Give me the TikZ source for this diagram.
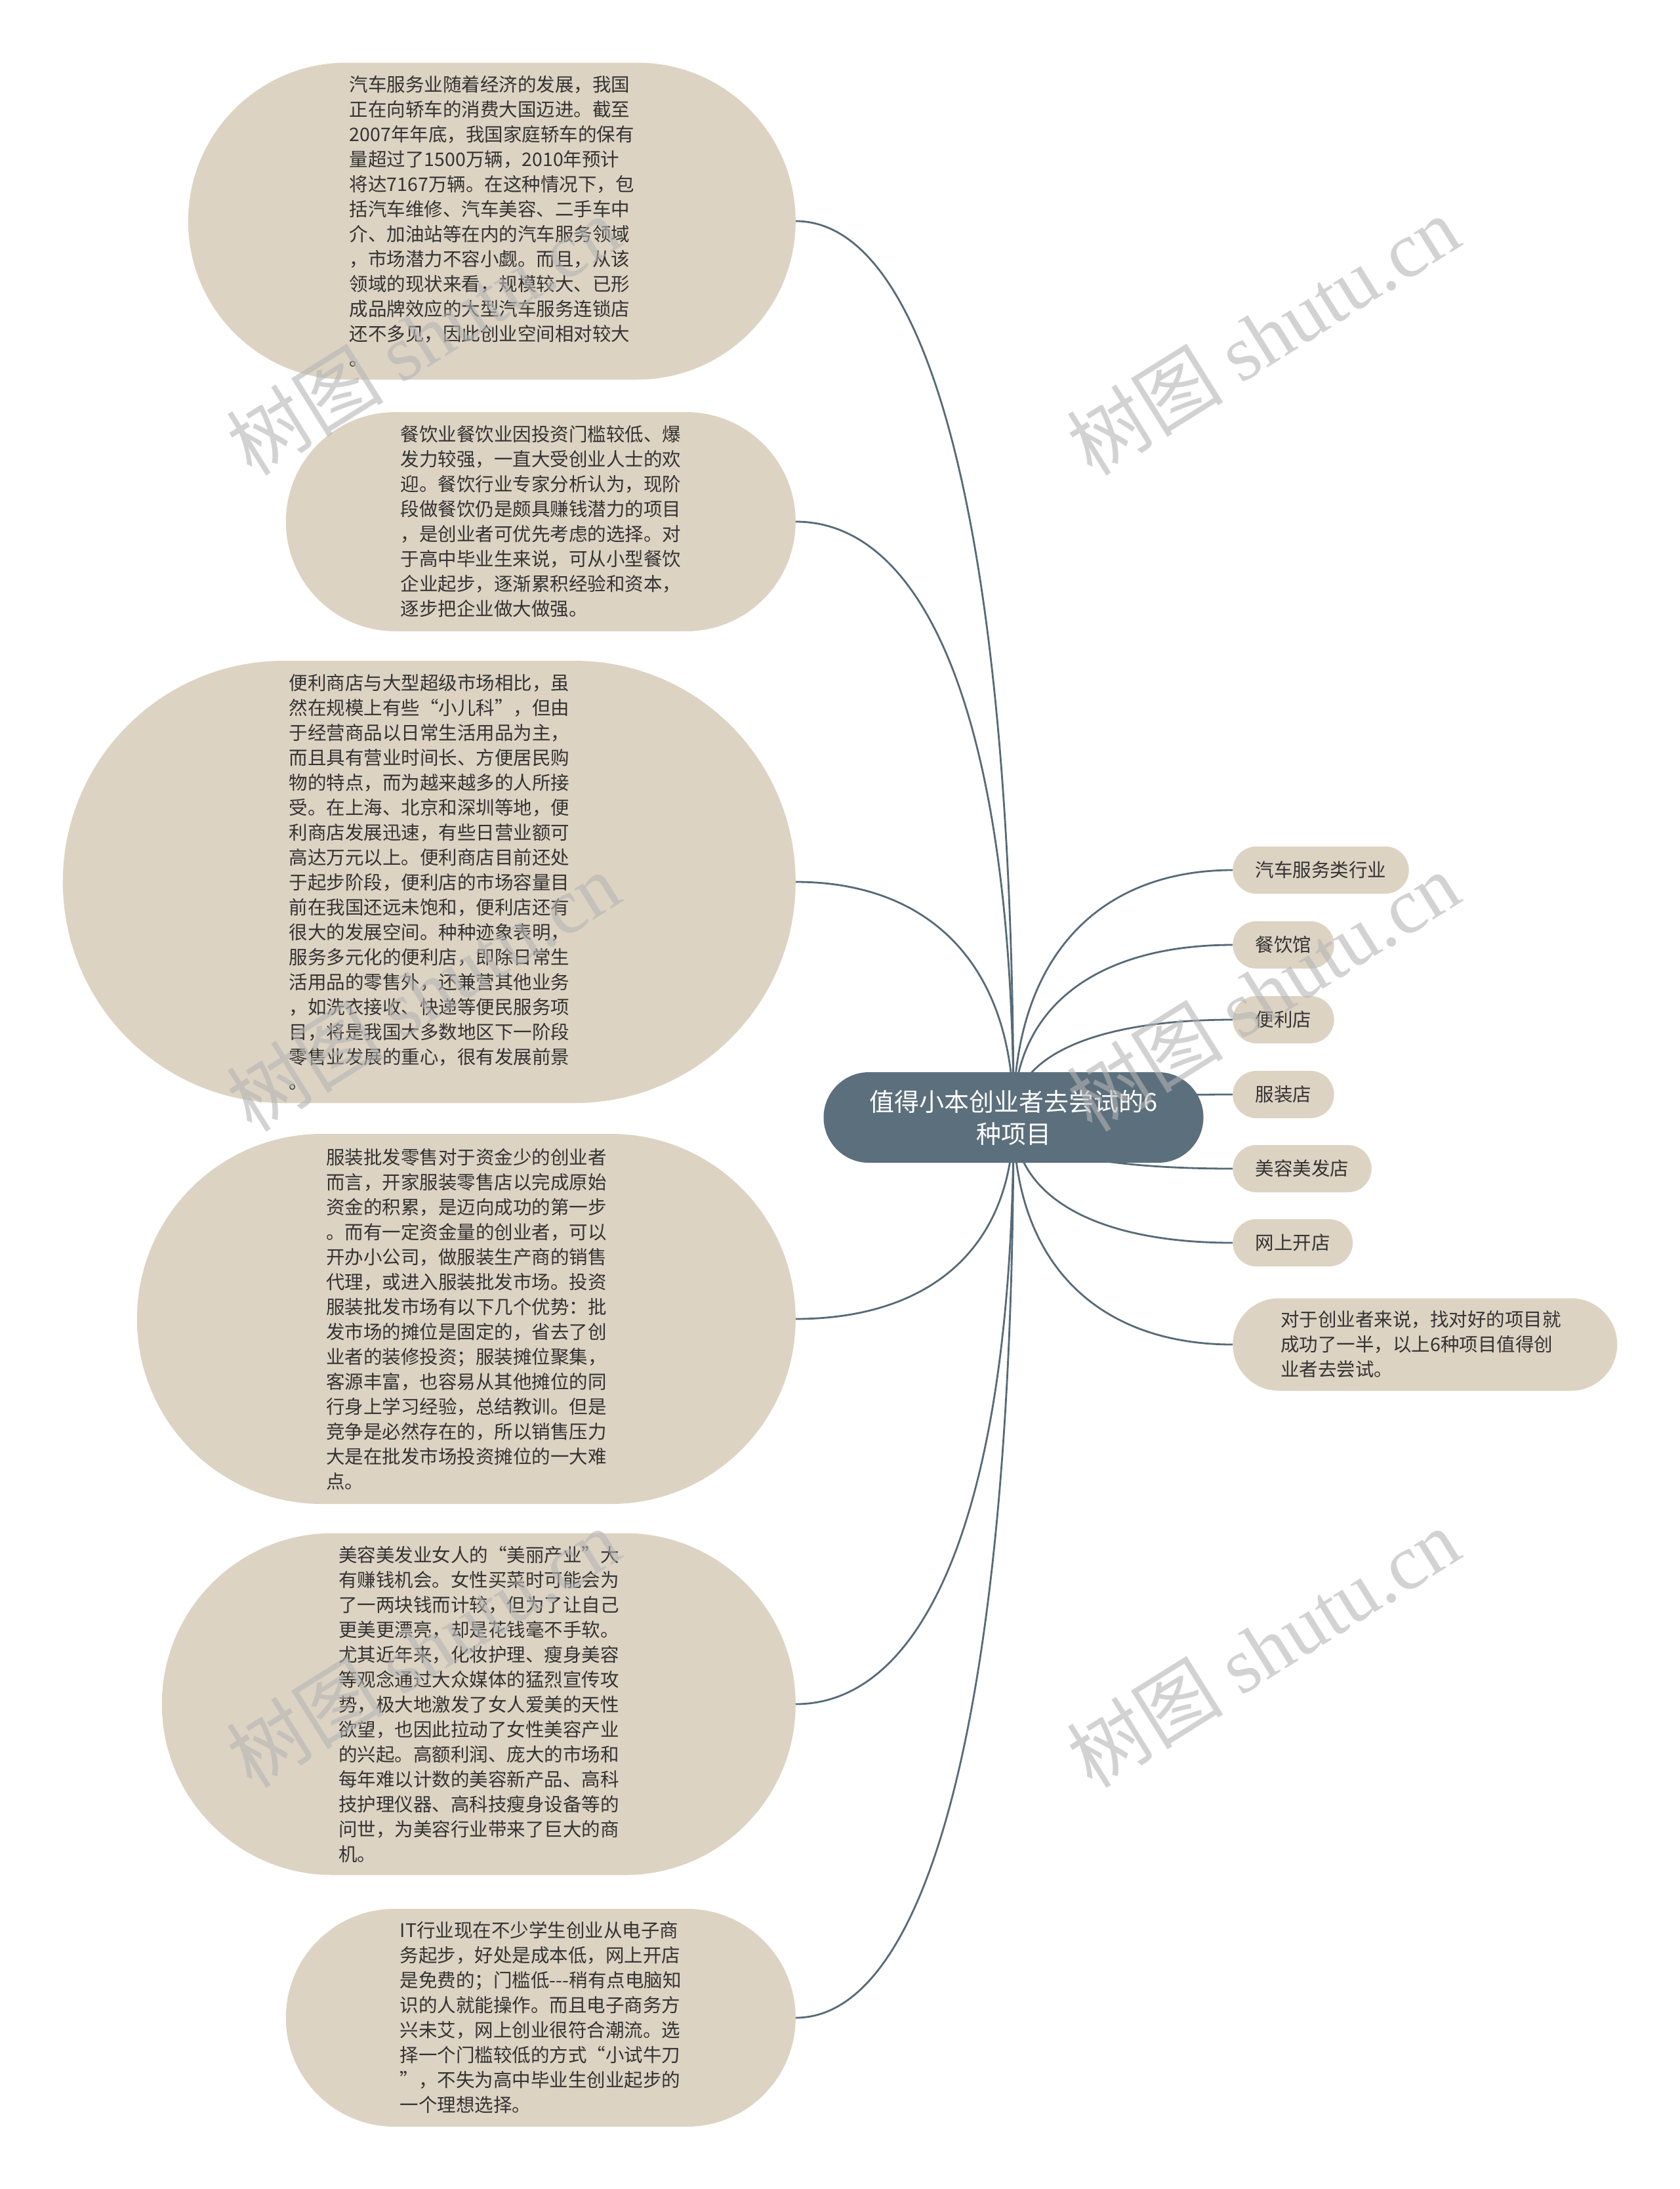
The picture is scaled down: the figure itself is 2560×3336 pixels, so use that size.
\documentclass[tikz,border=0pt]{standalone}
\usepackage{fontspec}
\setmainfont{Noto Sans CJK SC}
\newfontfamily\wmlatin{Liberation Serif}
\usetikzlibrary{shapes.misc}
\usetikzlibrary{backgrounds}

\definecolor{leafbg}{HTML}{DDD3C3}
\definecolor{rootbg}{HTML}{5C6F7C}
\definecolor{linkc}{HTML}{566A77}
\definecolor{txtdark}{HTML}{333333}
\definecolor{wmgray}{HTML}{B4B4B4}

\tikzset{
  idea/.style={rounded rectangle, fill=leafbg, text=txtdark, inner sep=0pt,
    align=left, anchor=east, font=\fontsize{28.5pt}{38pt}\selectfont},
  leaf/.style={rounded rectangle, fill=leafbg, text=txtdark, inner xsep=32pt,
    inner ysep=0pt, minimum height=72pt, anchor=west, font=\fontsize{28.5pt}{38pt}\selectfont},
  link/.style={draw=linkc, line width=2.8pt},
  wmtext/.style={text=wmgray, opacity=0.6, rotate=32, font=\fontsize{120pt}{120pt}\selectfont}
}

\begin{document}
\begin{tikzpicture}[x=1pt,y=-1pt]
    \useasboundingbox (0,0) rectangle (2560,3336);
    %% centre topic
    \node[rounded rectangle, fill=rootbg, text=white, align=center, inner sep=0pt,
      minimum width=579pt, minimum height=138pt,
      font=\fontsize{38pt}{49pt}\selectfont] (root) at (1545,1703)
      {值得小本创业者去尝试的6\\种项目};
    %% left side, long texts
    \node[idea, minimum width=926pt, minimum height=483pt] (car) at (1213,337)
      {汽车服务业随着经济的发展，我国\\
       正在向轿车的消费大国迈进。截至\\
       2007年年底，我国家庭轿车的保有\\
       量超过了1500万辆，2010年预计\\
       将达7167万辆。在这种情况下，包\\
       括汽车维修、汽车美容、二手车中\\
       介、加油站等在内的汽车服务领域\\
       ，市场潜力不容小觑。而且，从该\\
       领域的现状来看，规模较大、已形\\
       成品牌效应的大型汽车服务连锁店\\
       还不多见，因此创业空间相对较大\\
       。};
    \node[idea, minimum width=777pt, minimum height=334pt] (food) at (1213,795)
      {餐饮业餐饮业因投资门槛较低、爆\\
       发力较强，一直大受创业人士的欢\\
       迎。餐饮行业专家分析认为，现阶\\
       段做餐饮仍是颇具赚钱潜力的项目\\
       ，是创业者可优先考虑的选择。对\\
       于高中毕业生来说，可从小型餐饮\\
       企业起步，逐渐累积经验和资本，\\
       逐步把企业做大做强。};
    \node[idea, minimum width=1117pt, minimum height=674pt] (shop) at (1213,1344)
      {便利商店与大型超级市场相比，虽\\
       然在规模上有些“小儿科”，但由\\
       于经营商品以日常生活用品为主，\\
       而且具有营业时间长、方便居民购\\
       物的特点，而为越来越多的人所接\\
       受。在上海、北京和深圳等地，便\\
       利商店发展迅速，有些日营业额可\\
       高达万元以上。便利商店目前还处\\
       于起步阶段，便利店的市场容量目\\
       前在我国还远未饱和，便利店还有\\
       很大的发展空间。种种迹象表明，\\
       服务多元化的便利店，即除日常生\\
       活用品的零售外，还兼营其他业务\\
       ，如洗衣接收、快递等便民服务项\\
       目，将是我国大多数地区下一阶段\\
       零售业发展的重心，很有发展前景\\
       。};
    \node[idea, minimum width=1004pt, minimum height=564pt] (cloth) at (1213,2010)
      {服装批发零售对于资金少的创业者\\
       而言，开家服装零售店以完成原始\\
       资金的积累，是迈向成功的第一步\\
       。而有一定资金量的创业者，可以\\
       开办小公司，做服装生产商的销售\\
       代理，或进入服装批发市场。投资\\
       服装批发市场有以下几个优势：批\\
       发市场的摊位是固定的，省去了创\\
       业者的装修投资；服装摊位聚集，\\
       客源丰富，也容易从其他摊位的同\\
       行身上学习经验，总结教训。但是\\
       竞争是必然存在的，所以销售压力\\
       大是在批发市场投资摊位的一大难\\
       点。};
    \node[idea, minimum width=966pt, minimum height=521pt] (beauty) at (1213,2597)
      {美容美发业女人的“美丽产业”大\\
       有赚钱机会。女性买菜时可能会为\\
       了一两块钱而计较，但为了让自己\\
       更美更漂亮，却是花钱毫不手软。\\
       尤其近年来，化妆护理、瘦身美容\\
       等观念通过大众媒体的猛烈宣传攻\\
       势，极大地激发了女人爱美的天性\\
       欲望，也因此拉动了女性美容产业\\
       的兴起。高额利润、庞大的市场和\\
       每年难以计数的美容新产品、高科\\
       技护理仪器、高科技瘦身设备等的\\
       问世，为美容行业带来了巨大的商\\
       机。};
    \node[idea, minimum width=777pt, minimum height=332pt] (web) at (1213,3075)
      {IT行业现在不少学生创业从电子商\\
       务起步，好处是成本低，网上开店\\
       是免费的；门槛低-{}-{}-稍有点电脑知\\
       识的人就能操作。而且电子商务方\\
       兴未艾，网上创业很符合潮流。选\\
       择一个门槛较低的方式“小试牛刀\\
       ”，不失为高中毕业生创业起步的\\
       一个理想选择。};
    %% right side, short labels
    \node[leaf] (carL) at (1879,1326) {汽车服务类行业};
    \node[leaf] (foodL) at (1879,1440) {餐饮馆};
    \node[leaf] (shopL) at (1879,1554) {便利店};
    \node[leaf] (clothL) at (1879,1668) {服装店};
    \node[leaf] (beautyL) at (1879,1781) {美容美发店};
    \node[leaf] (webL) at (1879,1894) {网上开店};
    \node[leaf, align=left, inner xsep=51pt, text width=440pt, minimum height=141pt] (sum) at (1879,2049)
      {对于创业者来说，找对好的项目就\\
       成功了一半，以上6种项目值得创\\
       业者去尝试。};
    %% connectors, behind the nodes
    \begin{pgfonlayer}{background}
    \fill[white] (0,0) rectangle (2560,3336);
    \draw[link] (car.east) .. controls +(200,0) and (1545,801) .. (root.center);
    \draw[link] (food.east) .. controls +(200,0) and (1545,1104) .. (root.center);
    \draw[link] (shop.east) .. controls +(200,0) and (1545,1466) .. (root.center);
    \draw[link] (cloth.east) .. controls +(200,0) and (1545,1906) .. (root.center);
    \draw[link] (beauty.east) .. controls +(200,0) and (1545,2293) .. (root.center);
    \draw[link] (web.east) .. controls +(200,0) and (1545,2609) .. (root.center);
    \draw[link] (carL.west) .. controls +(-200,0) and (1545,1454) .. (root.center);
    \draw[link] (foodL.west) .. controls +(-200,0) and (1545,1529) .. (root.center);
    \draw[link] (shopL.west) .. controls +(-200,0) and (1545,1605) .. (root.center);
    \draw[link] (clothL.west) .. controls +(-200,0) and (1545,1680) .. (root.center);
    \draw[link] (beautyL.west) .. controls +(-200,0) and (1545,1754) .. (root.center);
    \draw[link] (webL.west) .. controls +(-200,0) and (1545,1829) .. (root.center);
    \draw[link] (sum.west) .. controls +(-200,0) and (1545,1931) .. (root.center);
    \end{pgfonlayer}
    %% watermark
    \foreach \wx in {645,1925}
      \foreach \wy in {511,1511,2511}
        \node[wmtext] (wm-\wx-\wy) at (\wx,\wy) {树图 {\wmlatin shutu.cn}};
\end{tikzpicture}
\end{document}
